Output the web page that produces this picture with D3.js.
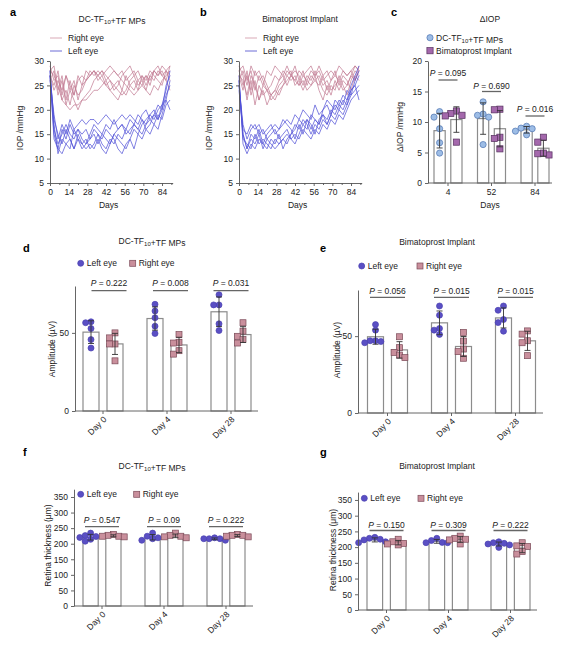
<!DOCTYPE html>
<html>
<head>
<meta charset="utf-8">
<script src="https://cdn.jsdelivr.net/npm/d3@7"></script>
<style>
body { margin: 0; background: #fff; }
</style>
</head>
<body>
<script>
// ---- IOP curves (panels a, b), one reading every 3 days ----
var ivDays = [0, 3, 6, 9, 12, 15, 18, 21, 24, 27, 30, 33, 36, 39, 42, 45, 48, 51, 54, 57, 60, 63, 66, 69, 72, 75, 78, 81, 84, 87, 90];
var dayTicks = [0, 14, 28, 42, 56, 70, 84];
var dayMinor = [7, 21, 35, 49, 63, 77, 91];
var iopTicks = [5, 10, 15, 20, 25, 30];

var aRight = [
	[28, 29, 24, 27, 22, 26, 23, 27, 25, 28, 27, 28, 26, 27, 25, 26, 24, 25, 27, 28, 29, 27, 28, 26, 27, 25, 28, 27, 29, 28, 27],
	[27, 25, 28, 23, 27, 24, 26, 22, 25, 26, 27, 28, 27, 28, 26, 24, 25, 26, 24, 27, 25, 26, 24, 27, 26, 28, 27, 26, 25, 28, 26],
	[29, 26, 27, 22, 24, 21, 25, 23, 24, 26, 27, 28, 27, 26, 25, 24, 23, 22, 24, 23, 25, 24, 26, 25, 24, 27, 26, 28, 27, 26, 29],
	[26, 28, 23, 26, 21, 24, 22, 20, 22, 23, 24, 26, 27, 28, 27, 26, 25, 24, 23, 24, 26, 27, 25, 26, 24, 23, 25, 24, 26, 27, 28],
	[28, 27, 25, 22, 21, 20, 21, 21, 22, 22, 23, 24, 24, 25, 26, 27, 28, 27, 26, 25, 24, 23, 24, 25, 27, 26, 28, 27, 28, 26, 24],
	[27, 24, 26, 24, 27, 25, 23, 26, 27, 26, 28, 27, 28, 27, 28, 29, 28, 27, 28, 26, 27, 28, 26, 27, 25, 27, 28, 29, 27, 28, 29]
];
var aLeft = [
	[27, 15, 12, 16, 14, 17, 15, 16, 14, 13, 15, 17, 16, 15, 14, 13, 15, 16, 17, 16, 18, 17, 16, 18, 17, 19, 18, 20, 21, 22, 26],
	[28, 17, 11, 14, 13, 12, 16, 14, 13, 12, 13, 12, 14, 12, 11, 13, 15, 14, 13, 12, 14, 16, 15, 17, 18, 19, 20, 18, 21, 24, 28],
	[26, 19, 14, 17, 15, 18, 16, 17, 18, 17, 18, 18, 17, 18, 19, 18, 17, 18, 19, 18, 19, 18, 17, 19, 20, 18, 19, 21, 20, 23, 25],
	[27, 18, 15, 13, 16, 14, 12, 15, 13, 14, 12, 13, 15, 14, 16, 15, 14, 12, 11, 13, 14, 12, 15, 14, 16, 15, 17, 19, 18, 21, 22],
	[28, 16, 13, 15, 17, 15, 14, 16, 15, 16, 14, 15, 13, 15, 17, 16, 18, 16, 17, 15, 16, 17, 19, 18, 16, 17, 19, 18, 20, 25, 27],
	[27, 14, 12, 11, 13, 14, 12, 14, 12, 13, 14, 16, 15, 13, 12, 14, 13, 15, 14, 16, 15, 17, 16, 15, 17, 18, 17, 16, 19, 22, 20]
];
var bRight = [
	[28, 29, 26, 28, 24, 27, 25, 28, 27, 29, 28, 27, 29, 27, 26, 28, 27, 26, 28, 27, 29, 27, 28, 26, 27, 29, 28, 27, 28, 29, 28],
	[27, 24, 28, 23, 26, 22, 25, 24, 23, 22, 24, 25, 27, 28, 25, 26, 24, 26, 25, 27, 24, 22, 25, 23, 26, 24, 26, 25, 27, 26, 28],
	[29, 27, 22, 26, 21, 25, 23, 24, 22, 23, 25, 26, 28, 27, 29, 26, 28, 25, 27, 26, 25, 27, 24, 26, 28, 25, 27, 26, 24, 27, 26],
	[26, 28, 25, 29, 27, 28, 26, 24, 25, 27, 26, 28, 27, 26, 27, 25, 26, 24, 25, 26, 27, 25, 26, 24, 25, 26, 24, 25, 27, 29, 28],
	[28, 25, 27, 24, 28, 26, 27, 25, 23, 24, 26, 27, 25, 27, 28, 27, 25, 27, 26, 28, 26, 24, 23, 25, 24, 27, 25, 23, 26, 28, 27],
	[27, 26, 23, 27, 25, 22, 24, 21, 23, 24, 23, 25, 26, 27, 26, 25, 27, 28, 29, 27, 28, 26, 27, 28, 27, 26, 28, 27, 28, 26, 29]
];
var bLeft = [
	[26, 15, 12, 14, 13, 15, 12, 14, 13, 12, 13, 14, 13, 15, 16, 18, 17, 18, 16, 18, 17, 19, 18, 20, 19, 21, 20, 22, 24, 25, 27],
	[25, 17, 14, 16, 17, 15, 16, 14, 15, 16, 14, 15, 16, 14, 13, 15, 17, 16, 19, 18, 17, 20, 21, 19, 22, 21, 23, 22, 25, 27, 29],
	[27, 13, 11, 13, 12, 14, 13, 12, 14, 13, 15, 12, 14, 15, 17, 16, 18, 17, 15, 17, 16, 18, 17, 19, 18, 20, 19, 21, 23, 24, 25],
	[24, 16, 15, 17, 16, 17, 15, 16, 17, 15, 16, 17, 18, 17, 19, 18, 20, 19, 18, 21, 19, 20, 22, 21, 20, 22, 21, 24, 23, 26, 28],
	[26, 14, 13, 12, 15, 13, 14, 13, 12, 14, 13, 14, 15, 14, 15, 14, 16, 15, 14, 16, 15, 17, 16, 18, 17, 19, 18, 20, 22, 23, 24],
	[25, 15, 12, 15, 14, 16, 13, 15, 16, 17, 16, 18, 17, 16, 14, 17, 15, 18, 17, 15, 18, 19, 17, 19, 21, 20, 22, 21, 24, 25, 22]
];

// ---- delta IOP (panel c) ----
var cGroups = ["4", "52", "84"];
var cDC = [[11.7, 10.8, 8.9, 6.6, 4.9], [13.3, 11.3, 11.1, 10.8, 6.3], [9.3, 9.0, 8.5, 7.9, 8.9]];
var cBim = [[11.8, 11.4, 11.1, 11.0, 6.7], [12.1, 12.0, 7.5, 7.3, 5.6], [7.5, 6.7, 4.6, 4.8, 4.9]];
var cP = ["0.095", "0.690", "0.016"];

// ---- ERG amplitude (panels d, e) ----
var dayGroups = ["Day 0", "Day 4", "Day 28"];
var dLeft = [[57.1, 56.5, 52.8, 45.7, 40.3], [68.3, 64.0, 59.7, 54.3, 49.6], [74.4, 67.9, 67.9, 55.8, 51.5]];
var dRight = [[50.0, 46.8, 42.9, 42.9, 32.1], [48.9, 44.0, 43.5, 38.6, 36.4], [56.5, 51.1, 47.8, 45.7, 43.5]];
var dP = ["0.222", "0.008", "0.031"];
var eLeft = [[57.5, 53.9, 47.0, 47.0, 46.5, 45.7], [69.6, 63.6, 55.0, 53.9, 51.1], [69.6, 66.8, 60.8, 58.8, 53.2]];
var eRight = [[49.6, 42.5, 39.4, 37.7, 36.0], [52.4, 46.8, 41.6, 39.9, 35.6], [53.4, 51.3, 47.0, 45.7, 37.3]];
var eP = ["0.056", "0.015", "0.015"];

// ---- retina thickness (panels f, g) ----
var fLeft = [[234, 226, 223, 220, 208, 214], [234, 224, 219, 216, 211], [219, 216, 216, 216, 211]];
var fRight = [[230, 227, 224, 224, 222], [234, 227, 224, 222, 219], [230, 227, 227, 222, 224]];
var fP = ["0.547", "0.09", "0.222"];
var gLeft = [[231, 228, 225, 223, 217, 214], [228, 221, 215, 214, 214], [217, 214, 212, 210, 207, 199]];
var gRight = [[225, 217, 212, 210, 207], [235, 228, 225, 223, 210], [214, 204, 202, 186, 178]];
var gP = ["0.150", "0.309", "0.222"];

var ampTicks = [0, 50];
var thickTicks = [0, 50, 100, 150, 200, 250, 300, 350];

var FONT = "'Liberation Sans', Arial, sans-serif";
var INK = "#222";
var AXIS = "#555";
var BAR = "#8c8c8c";

var svg = d3.select("body").append("svg")
	.attr("width", 571).attr("height", 656)
	.style("font-family", FONT).style("font-size", "8.5px");

function text(x, y, s, anchor) {
	return svg.append("text").attr("x", x).attr("y", y)
		.attr("fill", INK).attr("text-anchor", anchor || "start").text(s);
}

// "DC-TF_{10}+TF MPs" -> subscript tspan
function rich(sel, s) {
	s.split(/(_\{[^}]*\})/).forEach(function(p) {
		if (!p) return;
		if (p[0] === "_") {
			sel.append("tspan").attr("font-size", "6px").attr("dy", 2).text(p.slice(2, -1));
			sel.append("tspan").attr("dy", -2).text("");
		} else {
			sel.append("tspan").text(p);
		}
	});
	return sel;
}

function title(x, y, s) {
	rich(svg.append("text").attr("x", x).attr("y", y).attr("fill", INK).attr("text-anchor", "middle"), s);
}

function panelLabel(x, y, s) {
	text(x, y, s).attr("font-weight", "bold").attr("font-size", "11px").attr("fill", "#000");
}

function yLabel(x, y, s) {
	svg.append("text").attr("transform", "translate(" + x + "," + y + ") rotate(-90)")
		.attr("text-anchor", "middle").attr("fill", INK).text(s);
}

function styleAxis(a) {
	a.attr("font-size", null).attr("font-family", null);
	a.selectAll("path, line").attr("stroke", AXIS).attr("stroke-width", 0.9);
	a.selectAll("text").attr("fill", INK);
	return a;
}

function marker(sel, shape, size, fill, stroke) {
	if (shape === "circle") {
		return sel.append("circle").attr("r", size).attr("fill", fill).attr("stroke", stroke).attr("stroke-width", 0.7);
	}
	return sel.append("rect").attr("width", size * 2).attr("height", size * 2)
		.attr("fill", fill).attr("stroke", stroke).attr("stroke-width", 0.7);
}

function legendItem(x, y, shape, size, fill, stroke, label) {
	var m = marker(svg, shape, size, fill, stroke);
	if (shape === "circle") m.attr("cx", x).attr("cy", y);
	else m.attr("x", x - size).attr("y", y - size);
	rich(text(x + size + 3, y + 3, ""), label);
}

/*
IOP time course.
*/
function iopPanel(o) {
	var x = d3.scaleLinear().domain([0, 92]).range([o.left, o.left + 122.7]);
	var y = d3.scaleLinear().domain([5, 30]).range([183, 61]);
	var line = d3.line()
		.x(function(d, i) { return x(ivDays[i]); })
		.y(function(d) { return y(d); });
	var g = svg.append("g");

	g.selectAll("path.right").data(o.right).enter().append("path")
		.attr("class", "right").attr("d", line).attr("fill", "none")
		.attr("stroke", "#c27b93").attr("stroke-opacity", 0.9).attr("stroke-width", 0.8);
	g.selectAll("path.left").data(o.left_).enter().append("path")
		.attr("class", "left").attr("d", line).attr("fill", "none")
		.attr("stroke", "#4f4fd6").attr("stroke-opacity", 0.9).attr("stroke-width", 0.8);

	styleAxis(g.append("g").attr("transform", "translate(0,183)")
		.call(d3.axisBottom(x).tickValues(dayTicks).tickSize(3).tickSizeOuter(0)));
	styleAxis(g.append("g").attr("transform", "translate(0,183)")
		.call(d3.axisBottom(x).tickValues(dayMinor).tickSize(2).tickFormat("")))
		.select(".domain").remove();
	styleAxis(g.append("g").attr("transform", "translate(" + x(0) + ",0)")
		.call(d3.axisLeft(y).tickValues(iopTicks).tickSize(3).tickSizeOuter(0)));

	text(x(44), 208, "Days", "middle");
	yLabel(o.left - 27, 128, "IOP /mmHg");

	// legend
	[["Right eye", "#d9a9b6", 38], ["Left eye", "#6c6cd6", 51]].forEach(function(l) {
		svg.append("line").attr("x1", o.legX).attr("x2", o.legX + 12).attr("y1", l[2]).attr("y2", l[2])
			.attr("stroke", l[1]).attr("stroke-width", 1);
		text(o.legX + 18, l[2] + 3, l[0]);
	});
}

/*
simple beeswarm: spread points sideways when they would overlap.
*/
function swarm(vals, y, r) {
	var done = [], off = [];
	var idx = d3.range(vals.length).sort(function(a, b) { return vals[b] - vals[a]; });
	idx.forEach(function(i) {
		var py = y(vals[i]), steps = [0, -1, 1, -2, 2, -3, 3];
		for (var k = 0; k < steps.length; k++) {
			var px = steps[k] * r * 1.8;
			var ok = done.every(function(p) { return Math.hypot(p[0] - px, p[1] - py) >= r * 1.8; });
			if (ok || k === steps.length - 1) { off[i] = px; done.push([px, py]); break; }
		}
	});
	return off;
}

/*
bar + scatter + SD panel.
*/
function barPanel(o) {
	var g = svg.append("g");
	var y = d3.scaleLinear().domain(o.yDomain).range(o.yRange);
	var x = d3.scaleBand().domain(o.groups).range([o.xStart, o.xStart + o.step * o.groups.length]);
	var inner = d3.scaleBand().domain([0, 1]).range([-o.half, o.half]).paddingInner(1 / 3);
	var bw = inner.bandwidth();
	function cx(gi, si) { return x(o.groups[gi]) + x.bandwidth() / 2 + inner(si) + bw / 2; }

	o.series.forEach(function(s, si) {
		g.selectAll(null).data(s.values).enter().append("rect")
			.attr("x", function(v, gi) { return cx(gi, si) - bw / 2; })
			.attr("y", function(v) { return y(d3.mean(v)); })
			.attr("width", bw)
			.attr("height", function(v) { return y(0) - y(d3.mean(v)); })
			.attr("fill", "#fff").attr("stroke", BAR).attr("stroke-width", 1.2);
	});

	o.series.forEach(function(s, si) {
		s.values.forEach(function(v, gi) {
			var off = swarm(v, y, o.r), c = cx(gi, si);
			var pts = marker(g.selectAll(null).data(v).enter(), s.shape, o.r, s.fill, s.stroke);
			if (s.shape === "circle") {
				pts.attr("cx", function(d, i) { return c + off[i]; }).attr("cy", function(d) { return y(d); });
			} else {
				pts.attr("x", function(d, i) { return c + off[i] - o.r; }).attr("y", function(d) { return y(d) - o.r; });
			}
			var m = d3.mean(v), sd = d3.deviation(v), hi = y(m + sd), lo = y(m - sd);
			g.append("path")
				.attr("d", "M" + (c - 3) + "," + hi + "H" + (c + 3) + "M" + c + "," + hi + "V" + lo +
					"M" + (c - 3) + "," + lo + "H" + (c + 3))
				.attr("fill", "none").attr("stroke", "#333").attr("stroke-width", 0.9);
		});
	});

	// axes
	styleAxis(g.append("g").attr("transform", "translate(" + o.axisX[0] + ",0)")
		.call(d3.axisLeft(y).tickValues(o.yTicks).tickSize(3).tickSizeOuter(0)));
	var xa = styleAxis(g.append("g").attr("transform", "translate(0," + y(0) + ")")
		.call(d3.axisBottom(x).tickSize(3)));
	xa.select(".domain").remove();
	g.append("line").attr("x1", o.axisX[0]).attr("x2", o.axisX[1]).attr("y1", y(0)).attr("y2", y(0))
		.attr("stroke", AXIS).attr("stroke-width", 0.9);
	if (o.rotate) {
		xa.selectAll(".tick text")
			.attr("x", null).attr("y", null).attr("dy", null)
			.attr("transform", "translate(4,9) rotate(-45)")
			.attr("text-anchor", "end");
	}

	// P values
	o.pvals.forEach(function(p, gi) {
		var c = x(o.groups[gi]) + x.bandwidth() / 2 + (o.pShift ? o.pShift[gi] : 0);
		var t = g.append("text").attr("x", c).attr("y", o.pY[gi]).attr("text-anchor", "middle").attr("fill", INK);
		t.append("tspan").attr("font-style", "italic").text("P");
		t.append("tspan").text(" = " + p);
		g.append("line").attr("x1", c - o.pHalf).attr("x2", c + o.pHalf)
			.attr("y1", o.pLineY[gi]).attr("y2", o.pLineY[gi])
			.attr("stroke", "#666").attr("stroke-width", 1.3);
	});
}

// ---- a ----
panelLabel(10, 16, "a");
title(112, 22, "DC-TF_{10}+TF MPs");
iopPanel({ left: 50, right: aRight, left_: aLeft, legX: 50 });

// ---- b ----
panelLabel(200, 16, "b");
title(300, 22, "Bimatoprost Implant");
iopPanel({ left: 239, right: bRight, left_: bLeft, legX: 245 });

// ---- c ----
var LB_FILL = "#9dbde6", LB_STROKE = "#4f74b0";
var PU_FILL = "#a468ac", PU_STROKE = "#55305e";
panelLabel(391, 16, "c");
title(490, 22, "\u0394IOP");
legendItem(430, 37.7, "circle", 3.1, LB_FILL, LB_STROKE, "DC-TF_{10}+TF MPs");
legendItem(430, 50.7, "rect", 3.1, PU_FILL, PU_STROKE, "Bimatoprost Implant");
barPanel({
	groups: cGroups, yDomain: [0, 20], yRange: [183, 61], yTicks: [0, 5, 10, 15, 20],
	xStart: 426.25, step: 43.5, half: 14, axisX: [428, 552], r: 3.1,
	series: [
		{ values: cDC, shape: "circle", fill: LB_FILL, stroke: LB_STROKE },
		{ values: cBim, shape: "rect", fill: PU_FILL, stroke: PU_STROKE }
	],
	pvals: cP, pY: [76, 88.5, 111.5], pLineY: [80, 91.5, 116], pHalf: 9.5
});
text(490, 208, "Days", "middle");
yLabel(403, 127, "\u0394IOP /mmHg");

// ---- d..g ----
var LE_FILL = "#5a4fc4", LE_STROKE = "#4a40b0";
var RE_FILL = "#c98f9c", RE_STROKE = "#7b4a58";
function eyeSeries(left, right) {
	return [
		{ values: left, shape: "circle", fill: LE_FILL, stroke: LE_STROKE },
		{ values: right, shape: "rect", fill: RE_FILL, stroke: RE_STROKE }
	];
}
function eyeLegend(x1, x2, y) {
	legendItem(x1, y, "circle", 3, LE_FILL, LE_STROKE, "Left eye");
	legendItem(x2, y, "rect", 3, RE_FILL, RE_STROKE, "Right eye");
}

panelLabel(23, 252, "d");
title(152, 244, "DC-TF_{10}+TF MPs");
eyeLegend(80.7, 132.7, 263.3);
barPanel({
	groups: dayGroups, yDomain: [0, 80], yRange: [411, 286], yTicks: ampTicks,
	xStart: 71, step: 64, half: 20, axisX: [75, 258], r: 3, rotate: true,
	series: eyeSeries(dLeft, dRight),
	pvals: dP, pY: [285.5, 285.5, 285.5], pLineY: [290.7, 290.7, 290.7], pHalf: 17.5, pShift: [6, 3.5, 0]
});
yLabel(55, 349, "Amplitude (\u00b5V)");

panelLabel(320, 252, "e");
title(437, 245, "Bimatoprost Implant");
eyeLegend(361.7, 420, 266);
barPanel({
	groups: dayGroups, yDomain: [0, 80], yRange: [413, 290], yTicks: ampTicks,
	xStart: 355.5, step: 64, half: 20, axisX: [358, 543], r: 3, rotate: true,
	series: eyeSeries(eLeft, eRight),
	pvals: eP, pY: [294.3, 294.3, 294.3], pLineY: [297.3, 297.3, 297.3], pHalf: 17.5
});
yLabel(340, 350, "Amplitude (\u00b5V)");

panelLabel(23, 456, "f");
title(152, 469, "DC-TF_{10}+TF MPs");
barPanel({
	groups: dayGroups, yDomain: [0, 375], yRange: [606, 489.2], yTicks: thickTicks,
	xStart: 71, step: 62, half: 19, axisX: [74, 253], r: 3, rotate: true,
	series: eyeSeries(fLeft, fRight),
	pvals: fP, pY: [523, 523, 523], pLineY: [526.7, 526.7, 526.7], pHalf: 17
});
eyeLegend(80.7, 136.7, 494.3);
yLabel(51, 545.5, "Retina thickness (\u03bcm)");

panelLabel(320, 456, "g");
title(437, 469, "Bimatoprost Implant");
barPanel({
	groups: dayGroups, yDomain: [0, 375], yRange: [610, 492.1], yTicks: thickTicks,
	xStart: 355.5, step: 62, half: 19.5, axisX: [358, 537], r: 3, rotate: true,
	series: eyeSeries(gLeft, gRight),
	pvals: gP, pY: [527.5, 527.5, 527.5], pLineY: [530.5, 530.5, 530.5], pHalf: 17
});
eyeLegend(364.3, 421, 498.3);
yLabel(336, 550, "Retina thickness (\u03bcm)");
</script>
</body>
</html>
